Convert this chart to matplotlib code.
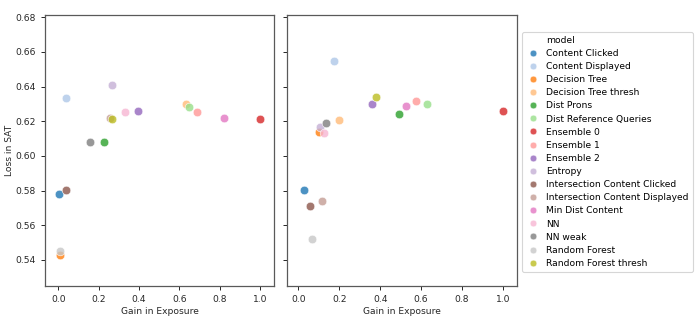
import matplotlib
matplotlib.use("Agg")
import matplotlib.pyplot as plt
from matplotlib.lines import Line2D

models = ["Content Clicked", "Content Displayed", "Decision Tree", "Decision Tree thresh",
          "Dist Prons", "Dist Reference Queries", "Ensemble 0", "Ensemble 1", "Ensemble 2",
          "Entropy", "Intersection Content Clicked", "Intersection Content Displayed",
          "Min Dist Content", "NN", "NN weak", "Random Forest", "Random Forest thresh"]

colors = ["#1f77b4", "#aec7e8", "#ff7f0e", "#ffbb78", "#2ca02c", "#98df8a", "#d62728",
          "#ff9896", "#9467bd", "#c5b0d5", "#8c564b", "#c49c94", "#e377c2", "#f7b6d2",
          "#7f7f7f", "#c7c7c7", "#bcbd22"]

left_x = [0.005, 0.040, 0.008, 0.631, 0.227, 0.649, 1.000, 0.689, 0.395,
          0.265, 0.038, 0.255, 0.822, 0.329, 0.158, 0.010, 0.268]
left_y = [0.5781, 0.6337, 0.5429, 0.6299, 0.6083, 0.6282, 0.6211, 0.6253, 0.6259,
          0.6408, 0.5804, 0.6217, 0.6217, 0.6253, 0.6081, 0.5450, 0.6212]

right_x = [0.0275, 0.173, 0.102, 0.197, 0.490, 0.628, 1.000, 0.576, 0.359,
           0.104, 0.058, 0.118, 0.526, 0.123, 0.1375, 0.068, 0.379]
right_y = [0.5802, 0.6546, 0.6138, 0.6208, 0.6242, 0.6302, 0.6262, 0.6317, 0.6302,
           0.6165, 0.5710, 0.5738, 0.6290, 0.6135, 0.6192, 0.5523, 0.6340]

FS = 6.6
plt.rcParams['font.family'] = ['DejaVu Sans']
plt.rcParams['font.size'] = FS

fig = plt.figure(figsize=(7.0, 3.31), dpi=100)
ax1 = fig.add_axes([45 / 700, 1 - 286 / 331, 229.3 / 700, (286 - 14.7) / 331])
ax2 = fig.add_axes([287.3 / 700, 1 - 286 / 331, 230 / 700, (286 - 14.7) / 331], sharey=ax1)

for ax, xs, ys in ((ax1, left_x, left_y), (ax2, right_x, right_y)):
    for m, c, x, y in zip(models, colors, xs, ys):
        ax.scatter([x], [y], s=38, color=c, alpha=0.8, edgecolors="white", linewidths=0.5, zorder=3)
    ax.set_xlabel("Gain in Exposure", fontsize=FS, color="0.15", labelpad=2)
    ax.set_xticks([0.0, 0.2, 0.4, 0.6, 0.8, 1.0])
    ax.tick_params(labelsize=FS, colors="0.15", length=3, width=0.7)
    for sp in ax.spines.values():
        sp.set_color("0.35")
        sp.set_linewidth(0.9)

ax1.set_xlim(-0.066, 1.071)
ax2.set_xlim(-0.054, 1.070)
ax1.set_ylim(0.525, 0.6815)
ax1.set_yticks([0.54, 0.56, 0.58, 0.60, 0.62, 0.64, 0.66, 0.68])
ax1.set_ylabel("Loss in SAT", fontsize=FS, color="0.15", labelpad=1)
ax2.tick_params(labelleft=False)

handles = [Line2D([], [], linestyle="none", marker=None)]
labels = ["model"]
for m, c in zip(models, colors):
    handles.append(Line2D([], [], linestyle="none", marker="o", markersize=4.8,
                          markerfacecolor=c, markeredgecolor="white", markeredgewidth=0.4, alpha=0.8))
    labels.append(m)
leg = fig.legend(handles, labels, loc="upper left", bbox_to_anchor=(521.7 / 700, 1 - 31.7 / 331),
                 borderaxespad=0, fontsize=FS, frameon=True, labelspacing=0.45,
                 handletextpad=0.6, handlelength=1.6, borderpad=0.45)
leg.get_frame().set_edgecolor("0.8")
leg.get_frame().set_linewidth(0.8)

fig.savefig("out.png", dpi=100)
